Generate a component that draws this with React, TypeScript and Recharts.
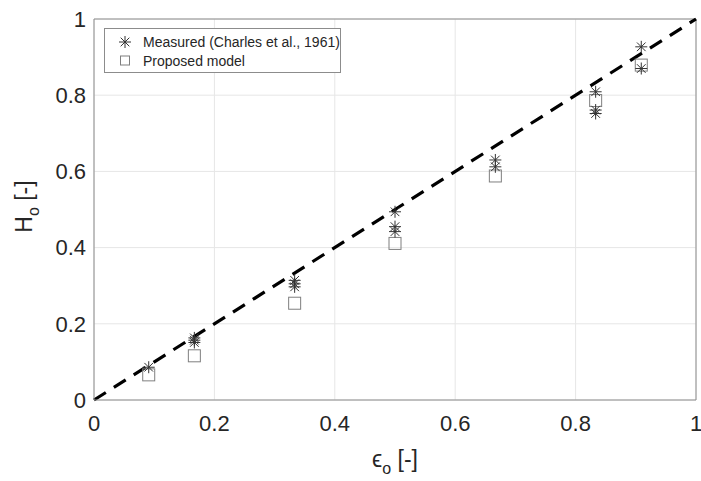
import {
  CartesianGrid,
  Label,
  Legend,
  ReferenceLine,
  Scatter,
  ScatterChart,
  XAxis,
  YAxis,
} from 'recharts'

// Measured void fractions (Charles et al., 1961)
const measuredEps = [0.0909, 0.1667, 0.1667, 0.1667, 0.3333, 0.3333, 0.3333, 0.5, 0.5, 0.5, 0.6667, 0.6667, 0.8333, 0.8333, 0.8333, 0.9091, 0.9091]
const measuredH = [0.086, 0.163, 0.157, 0.151, 0.314, 0.305, 0.297, 0.494, 0.455, 0.442, 0.63, 0.612, 0.809, 0.761, 0.752, 0.927, 0.87]

// Proposed model predictions
const modelEps = [0.0909, 0.1667, 0.3333, 0.5, 0.6667, 0.8333, 0.9091]
const modelH = [0.066, 0.116, 0.254, 0.411, 0.588, 0.786, 0.879]

const axisTicks = [0, 0.2, 0.4, 0.6, 0.8, 1]

const measured = measuredEps.map((x, i) => ({ x, y: measuredH[i] }))
const model = modelEps.map((x, i) => ({ x, y: modelH[i] }))

const FONT = '"Liberation Sans", Arial, Helvetica, sans-serif'
const AXIS = '#8c8c8c'
const TEXT = '#262626'

function Asterisk({ cx, cy, r = 6 }: { cx?: number; cy?: number; r?: number }) {
  if (cx == null || cy == null) return null
  const d = r * 0.72
  return (
    <g stroke="#333" strokeWidth={1} fill="none">
      <line x1={cx - r} y1={cy} x2={cx + r} y2={cy} />
      <line x1={cx} y1={cy - r} x2={cx} y2={cy + r} />
      <line x1={cx - d} y1={cy - d} x2={cx + d} y2={cy + d} />
      <line x1={cx - d} y1={cy + d} x2={cx + d} y2={cy - d} />
    </g>
  )
}

function Square({ cx, cy, s = 12 }: { cx?: number; cy?: number; s?: number }) {
  if (cx == null || cy == null) return null
  return (
    <rect
      x={cx - s / 2}
      y={cy - s / 2}
      width={s}
      height={s}
      fill="none"
      stroke="#7f7f7f"
      strokeWidth={1}
    />
  )
}

function LegendBox() {
  return (
    <svg width={237} height={45} style={{ display: 'block' }}>
      <rect x={0.5} y={0.5} width={236} height={44} fill="#fff" stroke={AXIS} />
      <Asterisk cx={21} cy={14} r={6} />
      <Square cx={21} cy={32.5} s={9} />
      <text x={39} y={18.5} fontSize={14} fontFamily={FONT} fill={TEXT}>
        Measured (Charles et al., 1961)
      </text>
      <text x={39} y={37.5} fontSize={14} fontFamily={FONT} fill={TEXT}>
        Proposed model
      </text>
    </svg>
  )
}

function XTitle({ viewBox }: any) {
  const cx = viewBox.x + viewBox.width / 2
  return (
    <text x={cx} y={viewBox.y + 67} textAnchor="middle" fontSize={23} fontFamily={FONT} fill={TEXT}>
      ϵ<tspan dy={7} fontSize={16}>o</tspan>
      <tspan dy={-7}> [-]</tspan>
    </text>
  )
}

function YTitle({ viewBox }: any) {
  const x = 32
  const y = viewBox.y + viewBox.height / 2 - 3
  return (
    <text
      x={x}
      y={y}
      transform={`rotate(-90, ${x}, ${y})`}
      textAnchor="middle"
      fontSize={23}
      fontFamily={FONT}
      fill={TEXT}
    >
      H<tspan dy={7} fontSize={16}>o</tspan>
      <tspan dy={-7}> [-]</tspan>
    </text>
  )
}

const tickStyle = { fill: TEXT, fontSize: 22, fontFamily: FONT }

export default function App() {
  return (
    <div style={{ position: 'absolute', left: 0, top: 0, width: 701, height: 481, background: '#fff' }}>
      <ScatterChart width={701} height={481} margin={{ top: 19, right: 5, left: 0, bottom: 0 }}>
        <CartesianGrid stroke="#e6e6e6" />
        <XAxis
          dataKey="x"
          type="number"
          domain={[0, 1]}
          ticks={axisTicks}
          height={81}
          stroke={AXIS}
          tickLine={false}
          tickSize={0}
          tickMargin={15}
          tick={tickStyle}
          interval={0}
        >
          <Label content={<XTitle />} />
        </XAxis>
        <YAxis
          dataKey="y"
          type="number"
          domain={[0, 1]}
          ticks={axisTicks}
          width={94}
          stroke={AXIS}
          tickLine={false}
          tickSize={0}
          tickMargin={8}
          tick={tickStyle}
          interval={0}
        >
          <Label content={<YTitle />} />
        </YAxis>
        <ReferenceLine y={1} stroke={AXIS} />
        <ReferenceLine x={1} stroke={AXIS} />
        <Scatter data={model} shape={(p: any) => <Square cx={p.cx} cy={p.cy} s={12} />} isAnimationActive={false} />
        <Scatter data={measured} shape={(p: any) => <Asterisk cx={p.cx} cy={p.cy} r={6} />} isAnimationActive={false} />
        <ReferenceLine
          segment={[{ x: 0, y: 0 }, { x: 1, y: 1 }]}
          stroke="#000"
          strokeWidth={3.2}
          strokeDasharray="14 9.5"
        />
        <Legend
          layout="vertical"
          align="center"
          verticalAlign="middle"
          wrapperStyle={{ top: 28, left: 104, width: 237 }}
          content={() => <LegendBox />}
        />
      </ScatterChart>
    </div>
  )
}
